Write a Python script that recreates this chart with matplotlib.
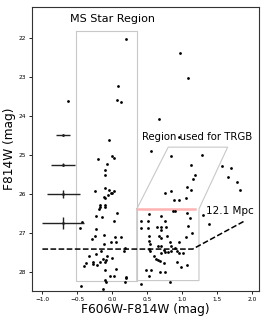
import matplotlib
matplotlib.use("Agg")
import matplotlib.pyplot as plt

# star photometry: colour (F606W-F814W) and magnitude (F814W)
color = [0.20, 0.085, 0.067, 0.13, -0.63, -0.05, 0.56, 0.97, 1.09, 0.67, 0.96,
         0.84, 1.29, 1.12, 1.19, 1.15, 0.76, 0.84, 1.07, 1.12, 0.88, 0.96, 1.05,
         0.87, 0.89, 0.53, 0.41, 0.51, 0.70, 0.76, 1.07, 1.11, 1.30, 1.57, 1.70,
         1.65, 1.79, 1.82, 1.38,
         -0.005, 0.03, -0.21, -0.08, -0.10, -0.10, -0.11, -0.05, -0.25, 0.03,
         -0.02, 0.00, -0.06, -0.12, -0.11, -0.17, -0.18, -0.10, -0.11, -0.19,
         0.07, -0.24, -0.15, 0.03,
         -0.44, -0.46, -0.23, -0.25, -0.29, -0.12, 0.04, 0.12, 0.05, -0.02,
         -0.12, 0.18, 0.17, -0.16, -0.23, -0.34, -0.08, -0.13, -0.01, -0.17,
         -0.09, -0.10, -0.38, -0.28, -0.28, -0.41, -0.22, 0.05, -0.10, -0.04,
         0.02, 0.19, 0.20, -0.10, -0.09, 0.18, -0.45, -0.13,
         0.64, 0.70, 0.77, 0.41, 0.51, 0.70, 1.08, 1.14, 1.05, 0.53, 0.67, 0.70,
         0.78, 0.83, 0.96, 0.54, 0.52, 0.65, 0.70, 0.84, 0.90, 0.53, 0.54, 0.74,
         0.75, 0.80, 0.84, 0.92, 0.96, 1.01, 0.69, 0.60, 0.62, 0.66, 0.68, 0.74,
         0.93, 0.98, 1.07, 0.48, 0.56, 0.52, 0.68, 0.75, 0.41, 0.83]
mag = [22.03, 23.23, 23.60, 23.64, 23.62, 24.62, 24.90, 22.39, 23.03, 24.07, 24.55,
       25.02, 25.00, 25.27, 25.51, 25.63, 25.98, 25.93, 25.82, 25.91, 26.15, 26.16,
       26.11, 26.44, 26.43, 26.51, 26.69, 26.69, 26.57, 26.69, 26.49, 26.62, 26.54,
       25.28, 25.33, 25.56, 25.69, 25.91, 26.77,
       25.02, 25.08, 25.11, 25.24, 25.38, 25.51, 25.84, 25.89, 25.92, 25.92,
       25.99, 25.99, 26.04, 26.07, 26.11, 26.28, 26.33, 26.28, 26.33, 26.39,
       26.49, 26.57, 26.60, 26.70,
       26.73, 26.89, 26.91, 27.08, 27.16, 27.06, 27.12, 27.11, 27.23, 27.25,
       27.29, 27.39, 27.48, 27.48, 27.54, 27.61, 27.59, 27.67, 27.65, 27.74,
       27.71, 27.76, 27.78, 27.74, 27.80, 27.86, 27.84, 27.92, 27.97, 28.12,
       28.12, 28.14, 28.17, 28.22, 28.27, 28.27, 28.36, 28.44,
       26.85, 26.85, 26.85, 26.88, 26.88, 26.92, 26.82, 27.01, 27.11, 27.09,
       27.08, 27.14, 27.09, 27.23, 27.23, 27.30, 27.21, 27.33, 27.33, 27.35,
       27.38, 27.42, 27.48, 27.44, 27.50, 27.50, 27.48, 27.48, 27.52, 27.52,
       27.52, 27.61, 27.67, 27.69, 27.73, 27.78, 27.76, 27.88, 27.84, 27.95,
       27.95, 28.12, 28.02, 28.02, 28.31, 28.26]

# typical photometric errors
err_color = [-0.7, -0.7, -0.7, -0.7]
err_mag = [24.5, 25.25, 26.0, 26.75]
err_x = [0.10, 0.17, 0.24, 0.30]
err_y = [0.02, 0.04, 0.10, 0.15]

# selection regions
ms_box_x = [-0.52, 0.35, 0.35, -0.52, -0.52]
ms_box_y = [21.81, 21.81, 28.23, 28.23, 21.81]
trgb_x = [0.35, 0.80, 1.65, 1.24, 1.24, 0.35, 0.35]
trgb_y = [26.39, 24.80, 24.80, 26.39, 28.23, 28.23, 26.39]
trgb_line_x = [0.37, 1.19]
trgb_line_y = [26.39, 26.39]
limit_x = [-1.0, 1.15, 1.90]
limit_y = [27.42, 27.42, 26.69]

fig = plt.figure(figsize=(2.66, 3.22), dpi=100)
ax = fig.add_axes([0.120, 0.096, 0.854, 0.882])

ax.plot(ms_box_x, ms_box_y, color='#c8c8c8', lw=0.8, zorder=1)
ax.plot(trgb_x, trgb_y, color='#c8c8c8', lw=0.8, zorder=1)
ax.plot(trgb_line_x, trgb_line_y, color='#ffb3b3', lw=1.8, zorder=1)
ax.plot(limit_x, limit_y, color='black', ls='--', lw=1.1, zorder=2)

ax.scatter(color, mag, s=4, color='black', zorder=3, linewidths=0)
ax.errorbar(err_color, err_mag, xerr=err_x, yerr=err_y, fmt='.', ms=2,
            color='#222222', elinewidth=1.0, capsize=0, zorder=3)

ax.text(0.0, 21.51, 'MS Star Region', fontsize=8, ha='center', va='center')
ax.text(1.22, 24.54, 'Region used for TRGB', fontsize=7.3, ha='center', va='center')
ax.text(1.34, 26.44, '12.1 Mpc', fontsize=7.5, ha='left', va='center')

ax.set_xlim(-1.15, 2.1)
ax.set_ylim(28.5, 21.2)
ax.set_xticks([-1.0, -0.5, 0.0, 0.5, 1.0, 1.5, 2.0])
ax.set_yticks([22, 23, 24, 25, 26, 27, 28])
ax.tick_params(labelsize=4.2, length=2.5, width=0.6, pad=1.5)
for s in ax.spines.values():
    s.set_linewidth(0.8)
    s.set_color('#333333')
ax.set_xlabel('F606W-F814W (mag)', fontsize=8.7, labelpad=1)
ax.set_ylabel('F814W (mag)', fontsize=8.7, labelpad=2)

fig.savefig('out.png', dpi=100)
